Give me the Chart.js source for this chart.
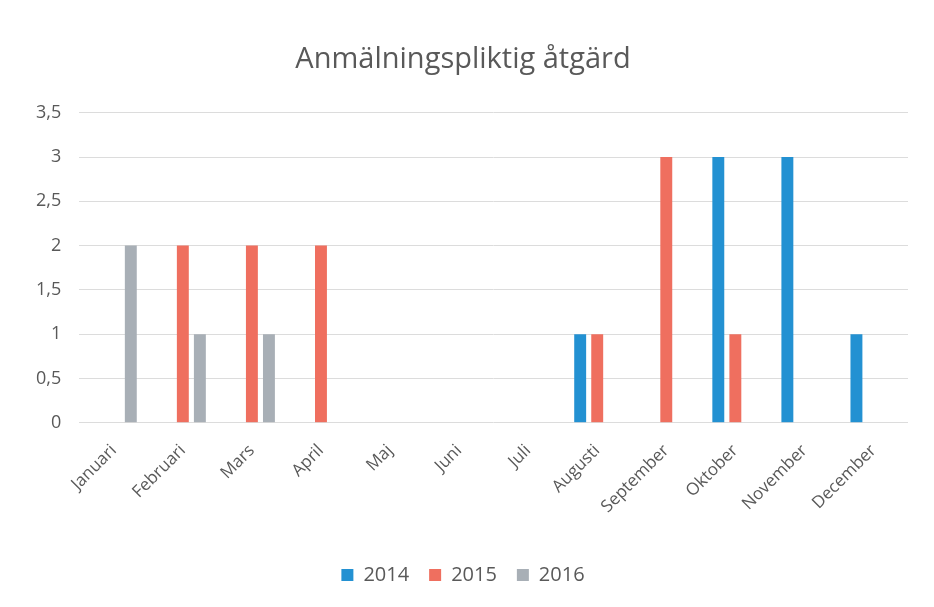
<!DOCTYPE html>
<html>
<head>
<meta charset="utf-8">
<script src="https://cdn.jsdelivr.net/npm/chart.js@4"></script>
<style>
  html, body { margin: 0; padding: 0; background: #fff; }
  #wrap { width: 934px; height: 607px; }
</style>
</head>
<body>
<div id="wrap"><canvas id="chart" width="934" height="607"></canvas></div>
<script>
const months = ["Januari", "Februari", "Mars", "April", "Maj", "Juni", "Juli", "Augusti", "September", "Oktober", "November", "December"]
const y2014 = [0, 0, 0, 0, 0, 0, 0, 1, 0, 3, 3, 1]
const y2015 = [0, 2, 2, 2, 0, 0, 0, 1, 3, 1, 0, 0]
const y2016 = [2, 1, 1, 0, 0, 0, 0, 0, 0, 0, 0, 0]

const font = "'Open Sans', 'Liberation Sans', sans-serif"
const textColor = "#595959"

const bar = (label, data, color) => ({
  label, data,
  backgroundColor: color,
  borderWidth: 0,
  barPercentage: 0.7,
  categoryPercentage: 0.74
})

new Chart(document.getElementById("chart"), {
  type: "bar",
  data: {
    labels: months,
    datasets: [
      bar("2014", y2014, "#2391d2"),
      bar("2015", y2015, "#ef6f5f"),
      bar("2016", y2016, "#a8afb6")
    ]
  },
  options: {
    responsive: false,
    animation: false,
    layout: { padding: { left: 18, right: 26, top: 22, bottom: 12 } },
    plugins: {
      title: {
        display: true,
        text: "Anmälningspliktig åtgärd",
        color: textColor,
        font: { family: font, size: 29, weight: "normal" },
        padding: { top: 20, bottom: 36 }
      },
      legend: {
        position: "bottom",
        labels: {
          color: textColor,
          font: { family: font, size: 20 },
          boxWidth: 12,
          boxHeight: 12,
          padding: 20
        }
      },
      tooltip: { enabled: false }
    },
    scales: {
      x: {
        grid: { display: false },
        border: { display: false },
        ticks: {
          color: textColor,
          font: { family: font, size: 17 },
          minRotation: 45,
          maxRotation: 45,
          padding: 10
        },
        afterFit(scale) { scale.height += 18 }
      },
      y: {
        min: 0,
        max: 3.5,
        grid: { color: "#dcdcdc", drawTicks: false },
        border: { display: false },
        ticks: {
          stepSize: 0.5,
          color: textColor,
          font: { family: font, size: 18 },
          padding: 18,
          callback: v => String(v).replace(".", ",")
        }
      }
    }
  }
})
</script>
</body>
</html>
